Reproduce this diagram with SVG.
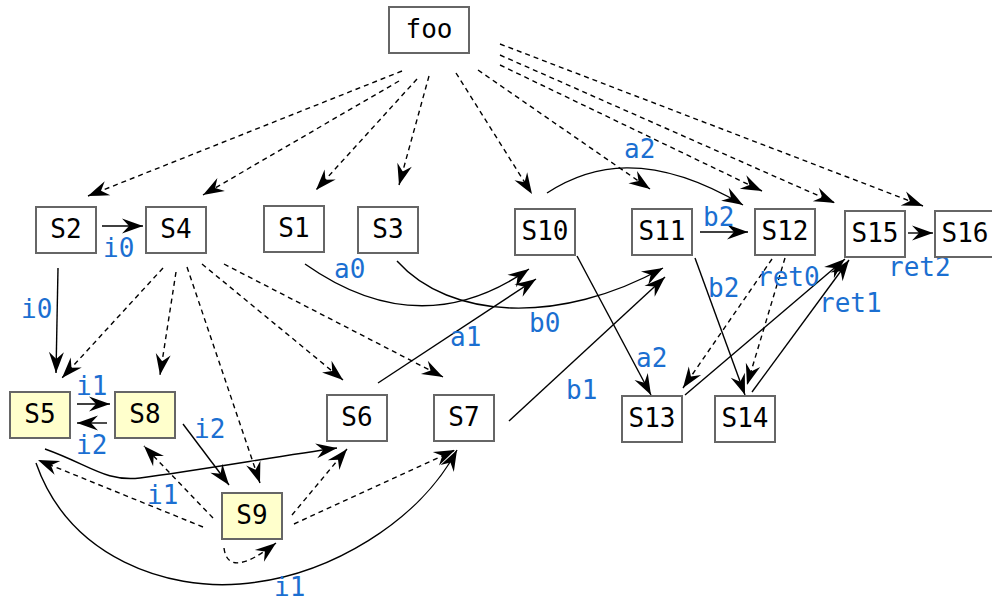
<svg xmlns="http://www.w3.org/2000/svg" width="992" height="602" viewBox="0 0 992 602">
<defs>
<marker id="ah" markerUnits="userSpaceOnUse" markerWidth="24" markerHeight="18" viewBox="-22 -9 24 18" refX="0" refY="0" orient="auto">
<path d="M0,0 C-7,-2.5 -14,-5 -21,-7.5 L-14,0 L-21,7.5 C-14,5 -7,2.5 0,0 Z" fill="#000"/>
</marker>
<style>
.box{fill:#fff;stroke:#666;stroke-width:2}
.y{fill:#ffffcc}
.t{font-family:"DejaVu Sans Mono","Liberation Mono",monospace;font-size:26px;fill:#000;text-anchor:middle}
.l{font-family:"DejaVu Sans Mono","Liberation Mono",monospace;font-size:26px;fill:#1b6fd1}
.e{fill:none;stroke:#000;stroke-width:1.4;marker-end:url(#ah)}
.d{stroke-dasharray:5,4}
</style>
</defs>
<rect width="992" height="602" fill="#fff"/>
<g id="connectors">
<path class="e d" d="M402,71 L88,196"/>
<path class="e d" d="M399,81 L203,195"/>
<path class="e d" d="M417,79 L316,190"/>
<path class="e d" d="M429,76 L399,185"/>
<path class="e d" d="M456,73 L532,194"/>
<path class="e d" d="M478,70 L650,189"/>
<path class="e d" d="M500,65 L762,191"/>
<path class="e d" d="M500,55 L835,203"/>
<path class="e d" d="M500,44 L923,206"/>
<path class="e" d="M102,226 L143,226"/>
<path class="e" d="M58,268 L56,373"/>
<path class="e d" d="M163,268 L62,378"/>
<path class="e d" d="M176,272 L160,375"/>
<path class="e d" d="M187,267 L260,483"/>
<path class="e d" d="M202,264 L343,380"/>
<path class="e d" d="M224,264 L443,377"/>
<path class="e" d="M305,264 Q420,345 529,269"/>
<path class="e" d="M397,261 C450,320 560,325 663,268"/>
<path class="e" d="M378,383 L536,279"/>
<path class="e" d="M509,421 L665,277"/>
<path class="e" d="M547,193 C590,165 650,150 743,205"/>
<path class="e" d="M577,256 L651,395"/>
<path class="e" d="M700,232 L748,232"/>
<path class="e" d="M695,258 L745,395"/>
<path class="e d" d="M772,259 L683,388"/>
<path class="e d" d="M785,258 L747,385"/>
<path class="e" d="M685,395 L845,259"/>
<path class="e" d="M752,392 L849,260"/>
<path class="e" d="M908,233 L933,233"/>
<path class="e" d="M77,404 L110,404"/>
<path class="e" d="M107,423 L77,423"/>
<path class="e" d="M183,424 L229,485"/>
<path class="e" d="M45,449 C90,465 105,482 140,478 C200,470 280,456 337,448"/>
<path class="e" d="M36,463 C70,560 170,590 240,584 C330,577 420,520 457,450"/>
<path class="e d" d="M203,527 L38,460"/>
<path class="e d" d="M213,518 L144,446"/>
<path class="e d" d="M224,548 Q228,580 276,543"/>
<path class="e d" d="M292,515 L347,449"/>
<path class="e d" d="M294,524 L455,450"/>
</g>
<g id="labels">
<text class="l" x="103" y="257">i0</text>
<text class="l" x="21" y="318">i0</text>
<text class="l" x="76" y="395">i1</text>
<text class="l" x="76" y="454">i2</text>
<text class="l" x="194" y="438">i2</text>
<text class="l" x="147" y="504">i1</text>
<text class="l" x="274" y="596">i1</text>
<text class="l" x="334" y="278">a0</text>
<text class="l" x="529" y="332">b0</text>
<text class="l" x="450" y="346">a1</text>
<text class="l" x="566" y="399">b1</text>
<text class="l" x="624" y="158">a2</text>
<text class="l" x="636" y="367">a2</text>
<text class="l" x="703" y="226">b2</text>
<text class="l" x="708" y="297">b2</text>
<text class="l" x="757" y="286">ret0</text>
<text class="l" x="819" y="312">ret1</text>
<text class="l" x="888" y="276">ret2</text>
</g>
<g id="foo"><rect class="box" x="389" y="7" width="80" height="46"/><text class="t" x="429" y="38">foo</text></g>
<g id="S2"><rect class="box" x="36" y="207" width="60" height="46"/><text class="t" x="66" y="238">S2</text></g>
<g id="S4"><rect class="box" x="146" y="207" width="60" height="46"/><text class="t" x="176" y="238">S4</text></g>
<g id="S1"><rect class="box" x="264" y="206" width="60" height="46"/><text class="t" x="294" y="237">S1</text></g>
<g id="S3"><rect class="box" x="358" y="207" width="60" height="46"/><text class="t" x="388" y="238">S3</text></g>
<g id="S10"><rect class="box" x="515" y="209" width="60" height="46"/><text class="t" x="545" y="240">S10</text></g>
<g id="S11"><rect class="box" x="632" y="209" width="60" height="46"/><text class="t" x="662" y="240">S11</text></g>
<g id="S12"><rect class="box" x="755" y="209" width="60" height="46"/><text class="t" x="785" y="240">S12</text></g>
<g id="S15"><rect class="box" x="845" y="211" width="60" height="46"/><text class="t" x="875" y="242">S15</text></g>
<g id="S16"><rect class="box" x="935" y="211" width="60" height="46"/><text class="t" x="965" y="242">S16</text></g>
<g id="S5"><rect class="box y" x="10" y="392" width="60" height="46"/><text class="t" x="40" y="423">S5</text></g>
<g id="S8"><rect class="box y" x="115" y="392" width="60" height="46"/><text class="t" x="145" y="423">S8</text></g>
<g id="S6"><rect class="box" x="327" y="395" width="60" height="46"/><text class="t" x="357" y="426">S6</text></g>
<g id="S7"><rect class="box" x="434" y="395" width="60" height="46"/><text class="t" x="464" y="426">S7</text></g>
<g id="S9"><rect class="box y" x="222" y="493" width="60" height="46"/><text class="t" x="252" y="524">S9</text></g>
<g id="S13"><rect class="box" x="622" y="396" width="60" height="46"/><text class="t" x="652" y="427">S13</text></g>
<g id="S14"><rect class="box" x="715" y="396" width="60" height="46"/><text class="t" x="745" y="427">S14</text></g>
</svg>
